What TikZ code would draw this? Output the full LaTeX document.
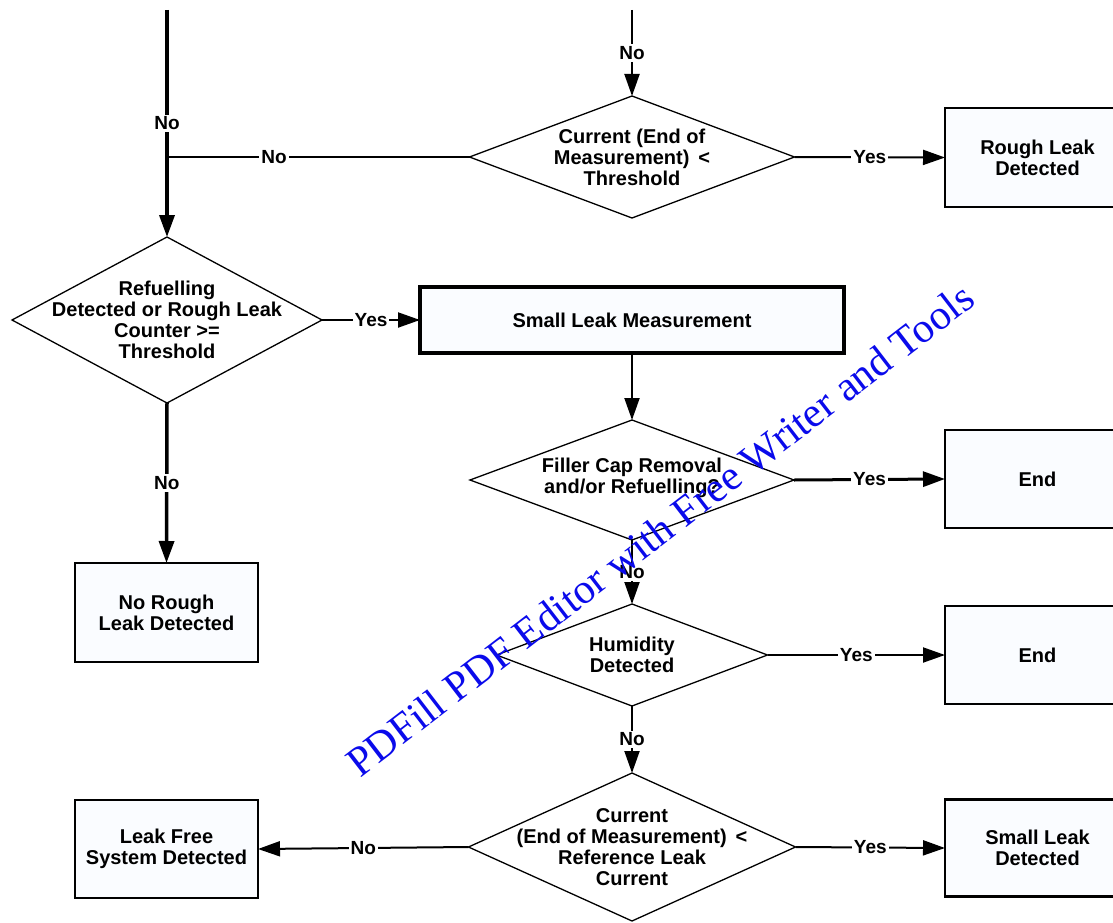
\documentclass[tikz,border=0pt]{standalone}
\usepackage{fontspec}
\setmainfont{Liberation Sans}
\newfontfamily\wmfont{Liberation Serif}
\usetikzlibrary{shapes.geometric,arrows.meta}
\definecolor{boxfill}{RGB}{250,252,255}
\definecolor{wmblue}{RGB}{10,10,235}
\begin{document}
\begin{tikzpicture}[x=1pt,y=-1pt,
  every node/.style={font=\fontsize{20}{21}\selectfont\bfseries},
  dia/.style={draw, diamond, line width=1.3pt, fill=white, inner sep=0pt, outer sep=0pt},
  box/.style={draw, rectangle, line width=2.5pt, fill=boxfill, inner sep=0pt, outer sep=0pt,
    align=center, minimum width=184pt, minimum height=98pt},
  txt/.style={align=center, inner sep=0pt},
  lab/.style={fill=white, inner sep=2pt, font=\fontsize{19}{20}\selectfont\bfseries},
  conn/.style={line width=2pt},
  heavy/.style={line width=3.5pt},
  arr/.style={-{Triangle[length=22pt,width=15pt]}},
]
\useasboundingbox (0,0) rectangle (1113,923);
\clip (0,0) rectangle (1113,923);

% decision nodes
\node[dia, minimum width=325pt, minimum height=122pt] (d1) at (632,157) {};
\node[txt] (d1t) at (d1.center) {Current (End of\\Measurement) \,<\\Threshold};
\node[dia, minimum width=310pt, minimum height=166pt] (d2) at (167,320) {};
\node[txt] (d2t) at (d2.center) {Refuelling\\Detected or Rough Leak\\Counter >=\\Threshold};
\node[dia, minimum width=324pt, minimum height=120pt] (d3) at (632,480) {};
\node[txt] (d3t) at (632,478) {Filler Cap Removal\\and/or Refuelling?};
\node[dia, minimum width=271pt, minimum height=102pt] (d4) at (632,655) {};
\node[txt] (d4t) at (d4.center) {Humidity\\Detected};
\node[dia, minimum width=327pt, minimum height=148pt] (d5) at (632,847) {};
\node[txt] (d5t) at (d5.center) {Current\\(End of Measurement) \,<\\Reference Leak\\Current};

% boxes
\node[box, minimum width=185pt, minimum height=99pt] (b1) at (1037.5,157.5) {Rough Leak\\Detected};
\node[box, line width=4pt, minimum width=424pt, minimum height=66pt] (b2) at (632,320) {Small Leak Measurement};
\node[box, minimum width=185pt] (b3) at (1037.5,479) {End};
\node[box, minimum width=185pt] (b4) at (1037.5,655) {End};
\node[box, minimum width=185pt, minimum height=97pt] (b5) at (1037.5,848) {Small Leak\\Detected};
\node[box, minimum width=183pt] (b6) at (166.5,849) {Leak Free\\System Detected};
\node[box, minimum width=183pt, minimum height=99pt] (b7) at (166.5,612.5) {No Rough\\Leak Detected};

% free ends
\coordinate (tl) at (167,10);
\coordinate (tc) at (632,10);
\coordinate (j) at (167,157);

% connectors
\draw[heavy, arr] (tl) -- node[lab]{No} (d2.north);
\draw[conn] (d1.west) -- node[lab, pos=0.646]{No} (j);
\draw[conn, arr] (tc) -- node[lab]{No} (d1.north);
\draw[conn, arr] (d1.east) -- node[lab]{Yes} (b1.west);
\draw[conn, arr] (d2.east) -- node[lab]{Yes} (b2.west);
\draw[heavy, arr] (d2.south) -- node[lab]{No} (b7.north);
\draw[conn, arr] (b2.south) -- (d3.north);
\draw[line width=3pt, arr] (d3.east) -- node[lab]{Yes} (b3.west);
\draw[conn, arr] (d3.south) -- node[lab]{No} (d4.north);
\draw[conn, arr] (d4.east) -- node[lab]{Yes} (b4.west);
\draw[conn, arr] (d4.south) -- node[lab]{No} (d5.north);
\draw[conn, arr] (d5.east) -- node[lab]{Yes} (b5.west);
\draw[conn, arr] (d5.west) -- node[lab]{No} (b6.east);

% watermark
\node[rotate=37.6, text=wmblue, font=\wmfont\fontsize{42}{42}\selectfont, inner sep=0pt] (wm) at (660,530)
  {PDFill PDF Editor with Free Writer and Tools};
\end{tikzpicture}
\end{document}
